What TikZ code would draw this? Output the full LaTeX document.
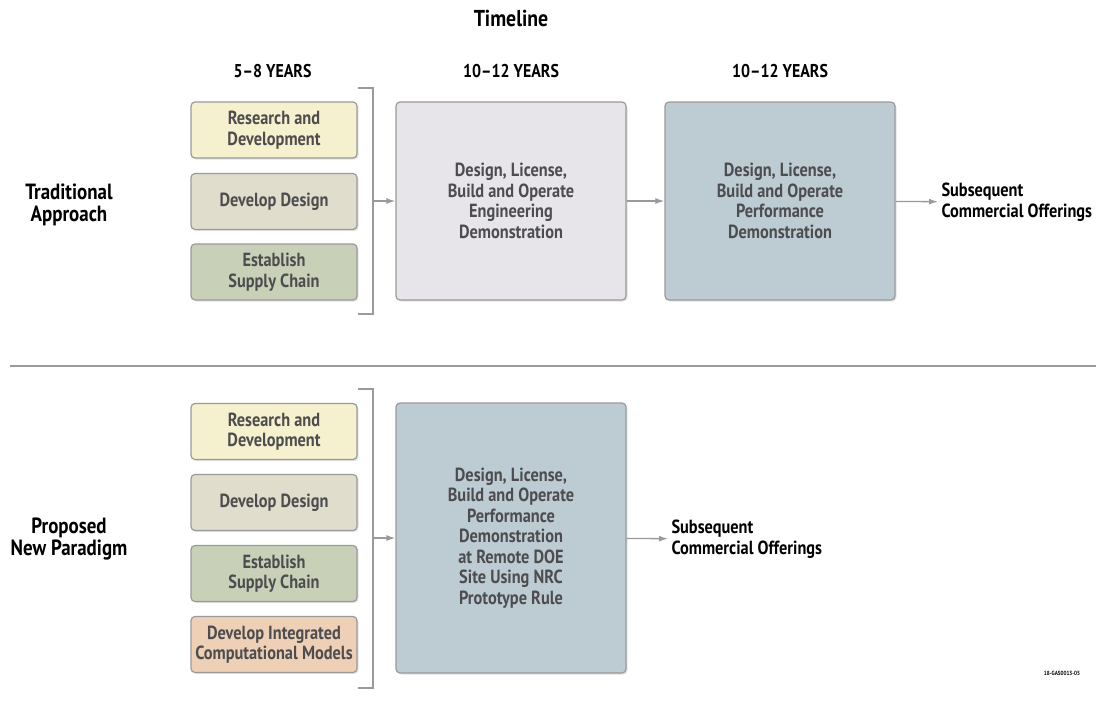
\documentclass[tikz,border=0pt]{standalone}
\usepackage{fontspec}
\setmainfont[FakeStretch=0.86]{PT Sans}
\usetikzlibrary{arrows.meta,shadows}
\definecolor{txtgray}{HTML}{4D4D4F}
\definecolor{lnegray}{HTML}{9A9A9C}
\definecolor{rdfill}{HTML}{F5F0CD}
\definecolor{ddfill}{HTML}{E1DDCC}
\definecolor{scfill}{HTML}{C8D1B8}
\definecolor{cmfill}{HTML}{EDD0B6}
\definecolor{engfill}{HTML}{E7E5EA}
\definecolor{perffill}{HTML}{BDCBD3}
\newcommand{\brak}[2]{\draw[gline] (358,#1) -- (373,#1) -- (373,#2) -- (358,#2)}

\begin{document}
\begin{tikzpicture}[x=1pt,y=-1pt,
  every node/.style={font=\bfseries\fontsize{19}{20.5}\selectfont, align=center},
  gline/.style={draw=lnegray, line width=1.3pt},
  arr/.style={gline, -{Latex[length=9pt,width=6pt]}},
  box/.style={draw=lnegray, line width=1.2pt, rounded corners=4pt, text=txtgray,
    drop shadow={shadow xshift=1.5pt, shadow yshift=-1.5pt, opacity=.22}},
  small/.style={box, minimum width=166pt, minimum height=56pt},
  big/.style={box, minimum width=230pt},
  head/.style={text=black},
  side/.style={head, font=\bfseries\fontsize{22}{21.5}\selectfont}]
\useasboundingbox (0,0) rectangle (1100,704);
%
\node[head, font=\bfseries\fontsize{23}{24}\selectfont] (tl) at (511,18.5) {Timeline};
\node[head, font=\bfseries\fontsize{18.5}{20}\selectfont] (y1) at (272.5,71.5) {5--8 YEARS};
\node[head, font=\bfseries\fontsize{18.5}{20}\selectfont] (y2) at (511,71.5) {10--12 YEARS};
\node[head, font=\bfseries\fontsize{18.5}{20}\selectfont] (y3) at (780,71.5) {10--12 YEARS};
%
\node[side] (trad) at (69,205) {Traditional\\Approach};
	\node[small, fill=rdfill] (rd1) at (274,130) {Research and\\Development};
	\node[small, fill=ddfill] (dd1) at (274,201.5) {Develop Design};
	\node[small, fill=scfill] (sc1) at (274,272) {Establish\\Supply Chain};
	\brak{88}{314};
	\coordinate (b1) at (373,201);
	\node[big, minimum height=198pt, fill=engfill] (eng) at (511,201) {Design, License,\\Build and Operate\\Engineering\\Demonstration};
	\node[big, minimum height=198pt, fill=perffill] (perf) at (780,201) {Design, License,\\Build and Operate\\Performance\\Demonstration};
	\node[head, anchor=west, align=left] (sub1) at (938,202) {Subsequent\\Commercial Offerings};
	\draw[arr] (b1) -- (eng);
	\draw[arr] (eng) -- (perf);
	\draw[arr] (perf) -- (sub1);
%
\draw[gline] (10,366) -- (1096,366);
%
\node[side] (prop) at (69,539) {Proposed\\New Paradigm};
	\node[small, fill=rdfill] (rd2) at (274,431.5) {Research and\\Development};
	\node[small, fill=ddfill] (dd2) at (274,502.5) {Develop Design};
	\node[small, fill=scfill] (sc2) at (274,573.5) {Establish\\Supply Chain};
	\node[small, fill=cmfill] (cm2) at (274,644.5) {Develop Integrated\\Computational Models};
	\brak{389}{688};
	\coordinate (b2) at (373,538);
	\node[big, minimum height=270pt, fill=perffill] (remote) at (511,538) {Design, License,\\Build and Operate\\Performance\\Demonstration\\at Remote DOE\\Site Using NRC\\Prototype Rule};
	\node[head, anchor=west, align=left] (sub2) at (668,539) {Subsequent\\Commercial Offerings};
	\draw[arr] (b2) -- (remote);
	\draw[arr] (remote) -- (sub2);
%
\node[font=\bfseries\fontsize{6}{7}\selectfont] (code) at (1062,673) {18-GAS0013-05};
\end{tikzpicture}
\end{document}
